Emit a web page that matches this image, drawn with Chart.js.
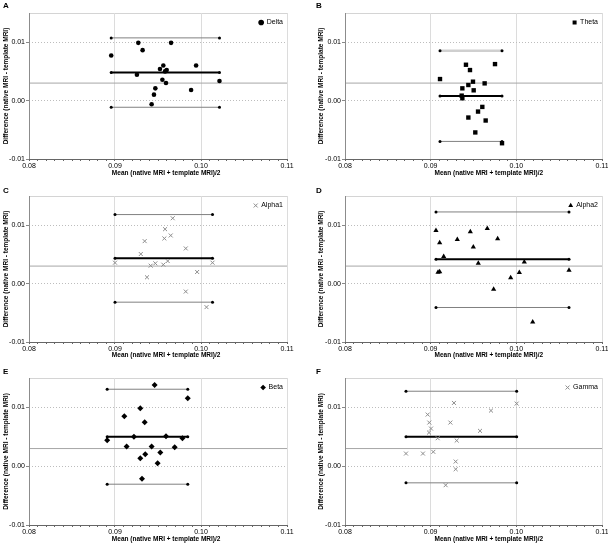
<!DOCTYPE html>
<html>
<head>
<meta charset="utf-8">
<script src="https://cdn.jsdelivr.net/npm/chart.js@4/dist/chart.umd.min.js"></script>
<style>
  body { margin: 0; background: #fff; }
  #wrap { position: relative; width: 608px; height: 544px; }
  .panel { position: absolute; }
  .panel canvas { display: block; }
  .tag { position: absolute; font: bold 8px 'Liberation Sans', Arial, sans-serif; line-height: 8px; }
</style>
</head>
<body>
<div id="wrap">
  <div class="panel" style="left:0;top:0"><canvas id="cA" width="304" height="181"></canvas></div>
  <div class="panel" style="left:304px;top:0"><canvas id="cB" width="304" height="181"></canvas></div>
  <div class="panel" style="left:0;top:181px"><canvas id="cC" width="304" height="181"></canvas></div>
  <div class="panel" style="left:304px;top:181px"><canvas id="cD" width="304" height="181"></canvas></div>
  <div class="panel" style="left:0;top:362px"><canvas id="cE" width="304" height="182"></canvas></div>
  <div class="panel" style="left:304px;top:362px"><canvas id="cF" width="304" height="182"></canvas></div>
  <div class="tag" style="left:3px;top:2px">A</div>
  <div class="tag" style="left:316px;top:2px">B</div>
  <div class="tag" style="left:3px;top:187px">C</div>
  <div class="tag" style="left:316px;top:187px">D</div>
  <div class="tag" style="left:3px;top:368px">E</div>
  <div class="tag" style="left:316px;top:368px">F</div>
</div>
<script>
// axis text
const xTitle = 'Mean (native MRI + template MRI)/2';
const yTitle = 'Difference (native MRI - template MRI)';
const xTickValues = [0.08, 0.09, 0.10, 0.11];
const yTickValues = [-0.01, 0.00, 0.01];
const yTop = 0.015;
const refDiff = 0.003;

// series: mean x, difference y, and [mean, upper LoA, lower LoA]
const deltaX = [0.08956, 0.09271, 0.09321, 0.09652, 0.09255, 0.09523, 0.09562, 0.09582, 0.09601, 0.09551, 0.09593, 0.09469, 0.09453, 0.09426, 0.09885, 0.09943, 0.10215];
const deltaY = [0.00773, 0.00989, 0.00864, 0.00989, 0.00443, 0.00540, 0.00602, 0.00500, 0.00523, 0.00358, 0.00301, 0.00210, 0.00102, -0.00063, 0.00182, 0.00602, 0.00335];
const deltaLines = [0.00483, 0.01074, -0.00114];

const thetaX = [0.09109, 0.09412, 0.09459, 0.09370, 0.09440, 0.09494, 0.09502, 0.09630, 0.09751, 0.09362, 0.09370, 0.09603, 0.09553, 0.09440, 0.09642, 0.09521, 0.09833];
const thetaY = [0.00369, 0.00614, 0.00523, 0.00210, 0.00267, 0.00324, 0.00176, 0.00295, 0.00625, 0.00085, 0.00040, -0.00108, -0.00188, -0.00290, -0.00341, -0.00545, -0.00730];
const thetaLines = [0.00080, 0.00852, -0.00699];

const alpha1X = [0.09671, 0.09582, 0.09648, 0.09574, 0.09345, 0.09823, 0.09300, 0.09000, 0.09469, 0.09415, 0.09562, 0.09613, 0.10134, 0.09955, 0.09372, 0.09823, 0.10064];
const alpha1Y = [0.01119, 0.00932, 0.00824, 0.00773, 0.00727, 0.00602, 0.00506, 0.00358, 0.00347, 0.00307, 0.00324, 0.00386, 0.00358, 0.00199, 0.00108, -0.00136, -0.00403];
const alpha1Lines = [0.00432, 0.01182, -0.00318];

const alpha2X = [0.09062, 0.09105, 0.09152, 0.09311, 0.09463, 0.09498, 0.09661, 0.09782, 0.09556, 0.09086, 0.09105, 0.09735, 0.09934, 0.10035, 0.10093, 0.10191, 0.10615];
const alpha2Y = [0.00909, 0.00699, 0.00466, 0.00756, 0.00886, 0.00625, 0.00943, 0.00767, 0.00347, 0.00193, 0.00205, -0.00097, 0.00102, 0.00188, 0.00369, -0.00659, 0.00227];
const alpha2Lines = [0.00415, 0.01227, -0.00409];

const betaX = [0.09461, 0.09846, 0.09294, 0.09108, 0.09345, 0.08909, 0.09220, 0.09593, 0.09784, 0.09135, 0.09426, 0.09694, 0.09527, 0.09352, 0.09294, 0.09496, 0.09314];
const betaY = [0.01382, 0.01156, 0.00986, 0.00850, 0.00748, 0.00442, 0.00499, 0.00510, 0.00476, 0.00334, 0.00334, 0.00323, 0.00232, 0.00204, 0.00136, 0.00051, -0.00215];
const betaLines = [0.00499, 0.01309, -0.00306];

const gammaX = [0.09272, 0.10004, 0.09704, 0.08965, 0.08984, 0.09230, 0.09004, 0.08981, 0.09576, 0.09082, 0.09304, 0.08712, 0.08910, 0.09031, 0.09292, 0.09292, 0.09175];
const gammaY = [0.01076, 0.01065, 0.00946, 0.00878, 0.00742, 0.00742, 0.00640, 0.00572, 0.00601, 0.00476, 0.00436, 0.00215, 0.00215, 0.00244, 0.00079, -0.00051, -0.00323];
const gammaLines = [0.00499, 0.01275, -0.00283];

Chart.defaults.font.family = "'Liberation Sans', Arial, sans-serif";
Chart.defaults.color = '#000';

// light frame round the plot area (left edge a bit darker)
const plotFrame = {
  id: 'plotFrame',
  beforeDraw(chart) {
    const { ctx, chartArea: a } = chart;
    const l = Math.round(a.left) + 0.5, t = Math.round(a.top) + 0.5;
    const r = Math.round(a.right) + 0.5, b = Math.round(a.bottom) + 0.5;
    ctx.save();
    ctx.lineWidth = 1;
    ctx.strokeStyle = '#d4d4d4';
    ctx.beginPath();
    ctx.moveTo(l, t); ctx.lineTo(r, t); ctx.lineTo(r, b);
    ctx.stroke();
    ctx.restore();
  },
  afterDraw(chart) {
    const { ctx, chartArea: a } = chart;
    const l = Math.round(a.left) + 0.5;
    ctx.save();
    ctx.lineWidth = 1;
    ctx.strokeStyle = '#8c8c8c';
    ctx.beginPath();
    ctx.moveTo(l, Math.round(a.top)); ctx.lineTo(l, Math.round(a.bottom));
    ctx.stroke();
    ctx.restore();
  }
};

// legend sits inside the plot, top right
const legendRight = {
  id: 'legendRight',
  afterLayout(chart) {
    const lg = chart.legend;
    if (!lg) return;
    const w = lg.width, h = lg.height;
    lg.left = chart.chartArea.right - w + 6;
    lg.right = lg.left + w;
    lg.top = chart.chartArea.top;
    lg.bottom = lg.top + h;
  }
};

function isMajor(v) {
  return xTickValues.some(t => Math.abs(t - v) < 1e-7);
}

function buildChart(id, name, xs, ys, lines, look, box) {
  const points = xs.map((x, i) => ({ x: x, y: ys[i] }));
  const x0 = Math.min(...xs);
  const x1 = Math.max(...xs);
  const hline = (y, a, b) => [{ x: a, y: y }, { x: b, y: y }];
  const ends = { showLine: true, pointStyle: 'circle', pointRadius: 1.5, pointBackgroundColor: '#000', pointBorderColor: '#000', pointBorderWidth: 0 };

  new Chart(document.getElementById(id), {
    type: 'scatter',
    data: {
      datasets: [
        {
          label: name, data: points, showLine: false,
          pointStyle: look.style, pointRadius: look.r,
          pointBackgroundColor: look.color, pointBorderColor: look.color, pointBorderWidth: look.bw,
          order: 0
        },
        Object.assign({ label: 'upper', data: hline(lines[1], x0, x1), borderColor: look.upColor || '#808080', borderWidth: look.upWidth || 1, order: 2 }, ends),
        Object.assign({ label: 'mean', data: hline(lines[0], x0, x1), borderColor: '#000', borderWidth: 2, order: 1 }, ends),
        Object.assign({ label: 'lower', data: hline(lines[2], x0, x1), borderColor: '#808080', borderWidth: 1, order: 2 }, ends),
        { label: 'ref', data: hline(refDiff, xTickValues[0], xTickValues[3]), showLine: true, pointRadius: 0, borderColor: '#a6a6a6', borderWidth: 1, order: 3 }
      ]
    },
    options: {
      responsive: false,
      animation: false,
      devicePixelRatio: 1,
      layout: { padding: { left: box.padL, top: box.padT, right: box.padR, bottom: 0 } },
      plugins: {
        tooltip: { enabled: false },
        legend: {
          position: 'chartArea',
          align: 'start',
          labels: {
            filter: item => item.datasetIndex === 0,
            usePointStyle: true, boxWidth: 4, boxHeight: 4, padding: 6,
            font: { size: 7 }, color: '#000'
          }
        }
      },
      scales: {
        x: {
          type: 'linear', min: xTickValues[0], max: xTickValues[3],
          ticks: {
            stepSize: 0.001, autoSkip: false, maxRotation: 0, padding: 1,
            font: { size: 7 },
            callback: v => isMajor(v) ? v.toFixed(2) : ''
          },
          grid: {
            color: c => (c.tick && isMajor(c.tick.value)) ? '#dcdcdc' : 'rgba(0,0,0,0)',
            tickColor: '#666', tickLength: 2
          },
          border: { color: '#666', width: 1 },
          title: { display: true, text: box.xPre + xTitle, font: { size: 6.5, weight: 'bold' }, padding: { top: 0, bottom: box.xtPad } },
          afterFit: s => { s.height = box.xh; s.paddingLeft = 0; s.paddingRight = 0; }
        },
        y: {
          type: 'linear', min: yTickValues[0], max: yTop,
          ticks: { stepSize: 0.01, padding: 1, font: { size: 7 }, callback: v => v.toFixed(2) },
          afterBuildTicks: s => { s.ticks = s.ticks.filter(t => yTickValues.some(v => Math.abs(v - t.value) < 1e-7)); },
          grid: { color: '#bdbdbd', tickColor: '#888', tickLength: 3 },
          border: { display: false, dash: [1, 2] },
          title: { display: true, text: yTitle, font: { size: 6.5, weight: 'bold' }, padding: { top: 2, bottom: 0 } },
          afterFit: s => { s.width = box.yw; s.paddingTop = 0; s.paddingBottom = 0; }
        }
      }
    },
    plugins: [plotFrame, legendRight]
  });
}

const leftCol = { padL: 0, yw: 29, padR: 17, xPre: '\u00a0'.repeat(9) };
const rightCol = { padL: 11, yw: 30, padR: 6, xPre: '\u00a0'.repeat(17) };
const row1 = { padT: 13, xh: 22, xtPad: 4 };
const row2 = { padT: 15, xh: 20, xtPad: 3 };
const row3 = { padT: 16, xh: 19, xtPad: 1 };

buildChart('cA', 'Delta', deltaX, deltaY, deltaLines, { style: 'circle', r: 2.3, color: '#000', bw: 0 }, Object.assign({}, leftCol, row1));
buildChart('cB', 'Theta', thetaX, thetaY, thetaLines, { style: 'rect', r: 3.1, color: '#000', bw: 0, upColor: '#cfcfcf', upWidth: 2.5 }, Object.assign({}, rightCol, row1));
buildChart('cC', 'Alpha1', alpha1X, alpha1Y, alpha1Lines, { style: 'crossRot', r: 2.8, color: '#8c8c8c', bw: 1 }, Object.assign({}, leftCol, row2));
buildChart('cD', 'Alpha2', alpha2X, alpha2Y, alpha2Lines, { style: 'triangle', r: 3, color: '#000', bw: 0 }, Object.assign({}, rightCol, row2));
buildChart('cE', 'Beta', betaX, betaY, betaLines, { style: 'rectRot', r: 3, color: '#000', bw: 0 }, Object.assign({}, leftCol, row3));
buildChart('cF', 'Gamma', gammaX, gammaY, gammaLines, { style: 'crossRot', r: 2.8, color: '#8c8c8c', bw: 1 }, Object.assign({}, rightCol, row3));
</script>
</body>
</html>
